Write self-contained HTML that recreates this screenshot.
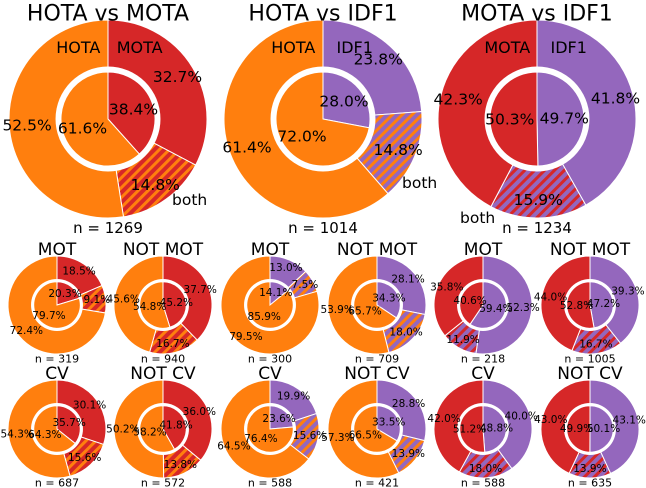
<!DOCTYPE html>
<html><head><meta charset="utf-8"><style>
html,body{margin:0;padding:0;background:#fff;}
svg{display:block;font-family:"DejaVu Sans","Liberation Sans",sans-serif;}
</style></head><body>
<svg id="chart" width="646" height="488" viewBox="0 0 646 488" xmlns="http://www.w3.org/2000/svg">
<defs>
<pattern id="h-orange-red" patternUnits="userSpaceOnUse" width="7" height="7" patternTransform="rotate(45)"><rect width="7" height="7" fill="#d62728"/><rect width="3" height="7" fill="#ff7f0e"/></pattern>
<pattern id="h-orange-purple" patternUnits="userSpaceOnUse" width="7" height="7" patternTransform="rotate(45)"><rect width="7" height="7" fill="#9467bd"/><rect width="3" height="7" fill="#ff7f0e"/></pattern>
<pattern id="h-red-purple" patternUnits="userSpaceOnUse" width="7" height="7" patternTransform="rotate(45)"><rect width="7" height="7" fill="#9467bd"/><rect width="3" height="7" fill="#d62728"/></pattern>
</defs>
</svg>
<script>
// chart data
const titles = ["HOTA vs MOTA","HOTA vs IDF1","MOTA vs IDF1","MOT","NOT MOT","MOT","NOT MOT","MOT","NOT MOT","CV","NOT CV","CV","NOT CV","CV","NOT CV"];
const pairs = ["HM","HI","MI","HM","HM","HI","HI","MI","MI","HM","HM","HI","HI","MI","MI"];
const outerBOnly = [32.7,23.8,41.8,18.5,37.7,13.0,28.1,52.3,39.3,30.1,36.0,19.9,28.8,40.0,43.1];
const outerBoth  = [14.8,14.8,15.9,9.1,16.7,7.5,18.0,11.9,16.7,15.6,13.8,15.6,13.9,18.0,13.9];
const outerAOnly = [52.5,61.4,42.3,72.4,45.6,79.5,53.9,35.8,44.0,54.3,50.2,64.5,57.3,42.0,43.0];
const innerB = [38.4,28.0,49.7,20.3,45.2,14.1,34.3,59.4,47.2,35.7,41.8,23.6,33.5,48.8,50.1];
const innerA = [61.6,72.0,50.3,79.7,54.8,85.9,65.7,40.6,52.8,64.3,58.2,76.4,66.5,51.2,49.9];
const counts = [1269,1014,1234,319,940,300,709,218,1005,687,572,588,421,588,635];

const COL = {H:"#ff7f0e", M:"#d62728", I:"#9467bd"};
const NAMES = {H:"HOTA", M:"MOTA", I:"IDF1"};
const HATCH = {HM:"url(#h-orange-red)", HI:"url(#h-orange-purple)", MI:"url(#h-red-purple)"};
// "both" label offset relative to chart centre (big charts only)
const BOTH_OFF = [[64,81],[79,64],[-77,99]];
const svg = document.getElementById('chart');
const NS = "http://www.w3.org/2000/svg";
function mk(tag, attrs, parent){const e=document.createElementNS(NS,tag);for(const k in attrs)e.setAttribute(k,attrs[k]);(parent||svg).appendChild(e);return e;}
function pt(cx,cy,r,a){return [cx+r*Math.sin(a*Math.PI/180), cy-r*Math.cos(a*Math.PI/180)];}
function wedge(cx,cy,r,a0,a1){
  const [x0,y0]=pt(cx,cy,r,a0),[x1,y1]=pt(cx,cy,r,a1);
  const large=(a1-a0)>180?1:0;
  return `M${cx},${cy}L${x0},${y0}A${r},${r} 0 ${large} 1 ${x1},${y1}Z`;
}
function txt(g,x,y,s,size,anchor){const t=mk('text',{x:x,y:y,'font-size':size,'text-anchor':anchor||'middle','dominant-baseline':'central',fill:'#000'},g);t.textContent=s;return t;}

const layout = [];
[108,323,537].forEach(x=>layout.push({cx:x,cy:119,R:99,big:true}));
[57,163,270,377,483,590].forEach(x=>layout.push({cx:x,cy:305,R:49,big:false}));
[57,163,270,377,483,590].forEach(x=>layout.push({cx:x,cy:429,R:49,big:false}));

titles.forEach((title,i)=>{
  const L=layout[i], p=pairs[i], A=p[0], B=p[1];
  const g=mk('g',{});
  
  
  const {cx,cy,R,big}=L;
  const fs=big?15.5:10.5;
  const tot=outerBOnly[i]+outerBoth[i]+outerAOnly[i];
  const segs=[[outerBOnly[i],COL[B],'outer-'+NAMES[B].toLowerCase()+'-only'],[outerBoth[i],HATCH[p],'outer-both'],[outerAOnly[i],COL[A],'outer-'+NAMES[A].toLowerCase()+'-only']];
  let a=0;
  const labels=[];
  segs.forEach(([v,fill,nm])=>{
    const span=v/tot*360;
    const w=mk('path',{d:wedge(cx,cy,R,a,a+span),fill:fill,stroke:'#fff','stroke-width':1},g);
    
    
    const [lx,ly]=pt(cx,cy,R*0.82,a+span/2);
    labels.push([lx,ly,v.toFixed(1)+'%']);
    a+=span;
  });
  if(big){labels.push([cx+BOTH_OFF[i][0],cy+BOTH_OFF[i][1],'both','start']);}
  const ring=mk('circle',{cx:cx,cy:cy,r:R*0.53,fill:'#fff'},g);
  
  
  const itot=innerB[i]+innerA[i];
  a=0;
  [[innerB[i],COL[B],'inner-'+NAMES[B].toLowerCase()],[innerA[i],COL[A],'inner-'+NAMES[A].toLowerCase()]].forEach(([v,fill,nm])=>{
    const span=v/itot*360;
    const w=mk('path',{d:wedge(cx,cy,R*0.475,a,a+span),fill:fill,stroke:'#fff','stroke-width':1},g);
    
    
    const [lx,ly]=pt(cx,cy,R*0.475*0.58,a+span/2);
    labels.push([lx,ly,v.toFixed(1)+'%']);
    a+=span;
  });
  labels.forEach(([x,y,s,anc])=>{const t=txt(g,x,y,s,fs,anc);
    
    });
  if(big){
    const t1=txt(g,cx-R*0.3,cy-R*0.72,NAMES[A],16);
    
    
    const t2=txt(g,cx+R*0.32,cy-R*0.72,NAMES[B],16);
    
    
  }
  const tt=txt(g,cx,big?cy-R-6:cy-R-6,title,big?22:17);
  
  
  const nt=txt(g,cx,big?cy+R+10:cy+R+5,'n = '+counts[i],big?15:11);
  
  
});
</script>
</body></html>
